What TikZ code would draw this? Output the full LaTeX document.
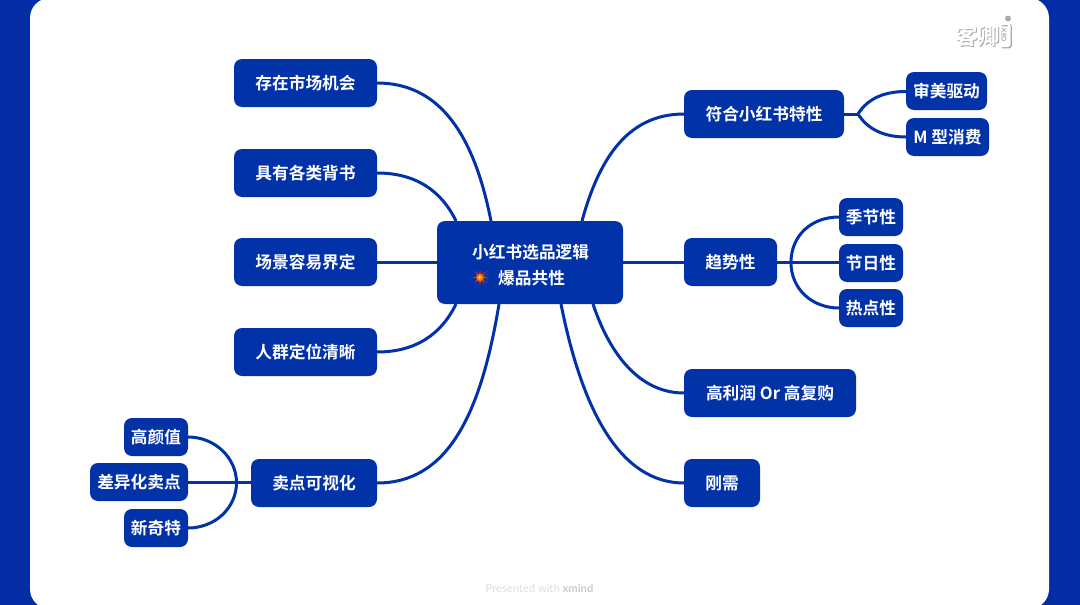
\documentclass[tikz,border=0pt]{standalone}
\usepackage{fontspec}
\setmainfont{Noto Sans CJK SC}[BoldFont={* Bold}]
\newfontfamily\emojifont{Noto Emoji}
\newfontfamily\latinfont{Lato}
\definecolor{bluedeep}{HTML}{042DA5}
\definecolor{boxblue}{HTML}{0232A7}
\definecolor{markgrey}{HTML}{DEDEDE}
\definecolor{markdark}{HTML}{CDCDCD}
\definecolor{shadegrey}{HTML}{A6A6A6}
\definecolor{dotgrey}{HTML}{A4ABBA}
\tikzset{
  topic/.style={fill=boxblue,rounded corners=8pt,inner sep=0pt,text=white,font=\fontsize{16.7}{20}\selectfont\bfseries},
  labeltext/.style={font=\fontsize{16.7}{20}\selectfont\bfseries,text=white,anchor=west,inner sep=0pt},
  link/.style={draw=boxblue,line width=3pt},
}
\newcommand{\topicbox}[6]{% name, x0, y0, x1, y1, text
  \node[topic,minimum width=#4pt-#2pt,minimum height=#5pt-#3pt] (#1) at ({(#2+#4)/2},{-(#3+#5)/2}) {\raisebox{-0.6pt}{#6}};
}
\begin{document}
\begin{tikzpicture}[x=1pt,y=1pt]
\useasboundingbox (0,0) rectangle (1080,-605);
\fill[bluedeep] (0,0) rectangle (1080,-605);
\begin{scope}
\clip (0,0) rectangle (1080,-605);
\fill[white,rounded corners=20pt] (30,2) rectangle (1049,-609);
\end{scope}
% end points of the connectors
\coordinate (a1) at (491,-221);
\coordinate (a2) at (456,-221);
\coordinate (a3) at (456,-304);
\coordinate (a4) at (499,-304);
\coordinate (b1) at (582,-221);
\coordinate (b3) at (593,-304);
\coordinate (b4) at (561,-304);
\coordinate (jr1) at (858,-114);
\coordinate (jr2) at (791,-262.5);
\coordinate (jl) at (236.5,-482.5);
\begin{scope}[link]
\draw (377,-83) .. controls (440,-83) and (474,-135) .. (a1);
\draw (377,-173) .. controls (415,-173) and (441,-190) .. (a2);
\draw (377,-262.5) -- (437,-262.5);
\draw (377,-352) .. controls (415,-352) and (441,-335) .. (a3);
\draw (377,-483) .. controls (445,-483) and (480,-420) .. (a4);
\draw (684,-114) .. controls (630,-114) and (600,-155) .. (b1);
\draw (623,-262.5) -- (684,-262.5);
\draw (684,-393) .. controls (640,-393) and (610,-355) .. (b3);
\draw (684,-483) .. controls (620,-483) and (582,-410) .. (b4);
\draw (844,-114) -- (jr1);
\draw (jr1) .. controls (868,-98) and (885,-91.5) .. (906,-91.5);
\draw (jr1) .. controls (868,-130) and (885,-137) .. (906,-137);
\draw (777,-262.5) -- (jr2);
\draw (jr2) .. controls (791,-235) and (812,-217) .. (839,-217);
\draw (jr2) -- (839,-262.5);
\draw (jr2) .. controls (791,-289) and (812,-308) .. (839,-308);
\draw (251,-482.5) -- (jl);
\draw (jl) .. controls (236.5,-458) and (215,-437) .. (188,-437);
\draw (jl) -- (188,-482.5);
\draw (jl) .. controls (236.5,-508) and (215,-528) .. (188,-528);
\end{scope}
\topicbox{n1}{234}{59}{377}{107}{存在市场机会}
\topicbox{n2}{234}{149}{377}{197}{具有各类背书}
\topicbox{n3}{234}{238}{377}{286}{场景容易界定}
\topicbox{n4}{234}{328}{377}{376}{人群定位清晰}
\topicbox{n5}{251}{459}{377}{507}{卖点可视化}
\topicbox{n51}{124}{418}{188}{456}{高颜值}
\topicbox{n52}{90}{463}{188}{501}{差异化卖点}
\topicbox{n53}{124}{509}{188}{547}{新奇特}
\topicbox{c}{437}{221}{623}{304}{}
\node[labeltext] (ct1) at (472,-252) {小红书选品逻辑};
% burst behind the emoji glyph
\begin{scope}[shift={(480,-277.5)}]
\fill[red!75!orange] (0:7.5) \foreach \a in {45,90,135,180,225,270,315} { -- (\a-22:2.8) -- (\a:7.5) } -- (338:2.8) -- cycle;
\fill[orange] (0,0) circle (3.6);
\fill[yellow!80!white] (0,0) circle (1.9);
\end{scope}
\node[font=\emojifont\fontsize{14}{16}\selectfont,text=orange!70!red,opacity=0.35,anchor=west,inner sep=0pt] (ce) at (473,-277.5) {💥};
\node[labeltext] (ct2) at (498,-278.5) {爆品共性};
\topicbox{m1}{684}{90}{844}{138}{符合小红书特性}
\topicbox{m11}{906}{72}{987}{110}{审美驱动}
\topicbox{m12}{906}{118}{989}{156}{M 型消费}
\topicbox{m2}{684}{238}{777}{286}{趋势性}
\topicbox{m21}{839}{198}{903}{236}{季节性}
\topicbox{m22}{839}{244}{903}{282}{节日性}
\topicbox{m23}{839}{289}{903}{327}{热点性}
\topicbox{m3}{684}{369}{856}{417}{高利润 Or 高复购}
\topicbox{m4}{684}{459}{760}{507}{刚需}
\node[font=\latinfont\fontsize{11.2}{13}\selectfont,text=markgrey,inner sep=0pt] (pw) at (539.5,-588.5) {Presented with \textbf{\color{markdark}xmind}};
% watermark
\node[font=\fontsize{22.5}{26}\selectfont\bfseries,text=shadegrey,inner sep=0pt,anchor=west] (wms) at (956,-36.6) {客卿};
\node[font=\fontsize{22.5}{26}\selectfont\bfseries,text=white,inner sep=0pt,anchor=west] (wm) at (954.8,-35.4) {客卿};
\draw[shadegrey,line width=2.8pt,rounded corners=2pt] (1002,-25) -- (1010.5,-25) -- (1010.5,-47) -- (1002,-47);
\draw[white,line width=2.4pt,rounded corners=2pt] (1001,-24) -- (1009.4,-24) -- (1009.4,-46) -- (1001,-46);
\node[font=\latinfont\fontsize{6.5}{7}\selectfont\bfseries,text=shadegrey,rotate=-90,inner sep=0pt] (keo) at (1004,-35.5) {KEO};
\fill[dotgrey] (1008,-18.5) circle (3);
\end{tikzpicture}
\end{document}
